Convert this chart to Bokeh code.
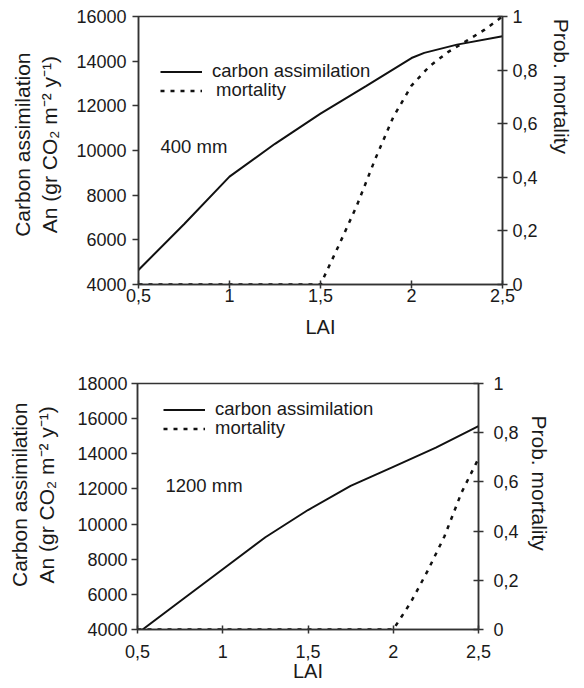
from bokeh.plotting import figure
from bokeh.models import (Range1d, LinearAxis, FixedTicker, Label, Legend,
                          LegendItem)
from bokeh.embed import file_html
from bokeh.resources import INLINE

# ---------------- data ----------------
x_ticks = [0.5, 1.0, 1.5, 2.0, 2.5]
x_tick_labels = ["0,5", "1", "1,5", "2", "2,5"]
prob_ticks = [0.0, 0.2, 0.4, 0.6, 0.8, 1.0]
prob_tick_labels = ["0", "0,2", "0,4", "0,6", "0,8", "1"]
top_an_ticks = [4000, 6000, 8000, 10000, 12000, 14000, 16000]
bot_an_ticks = [4000, 6000, 8000, 10000, 12000, 14000, 16000, 18000]

# 400 mm panel
top_lai_an = [0.5, 0.75, 1.0, 1.25, 1.5, 1.75, 2.0, 2.07, 2.25, 2.5]
top_an = [4650, 6700, 8830, 10300, 11650, 12880, 14140, 14370, 14740, 15120]
top_lai_mort = [0.5, 1.0, 1.5, 1.6, 1.7, 1.8, 1.9, 2.0, 2.1, 2.2, 2.3, 2.4, 2.5]
top_mort = [0, 0, 0, 0.145, 0.295, 0.467, 0.625, 0.742, 0.815, 0.867, 0.908, 0.95, 1.0]

# 1200 mm panel
bot_lai_an = [0.53, 0.75, 1.0, 1.25, 1.5, 1.75, 2.0, 2.25, 2.5]
bot_an = [4000, 5610, 7430, 9250, 10800, 12170, 13260, 14350, 15570]
bot_lai_mort = [0.5, 1.0, 1.5, 2.0, 2.1, 2.2, 2.3, 2.4, 2.5]
bot_mort = [0, 0, 0, 0, 0.107, 0.236, 0.378, 0.556, 0.695]

FONT = "Liberation Sans"
AXC = "#333333"
TXT = "#1a1a1a"
W = 584
YLABEL_LINES = ["Carbon assimilation", "An (gr CO\u2082 m\u207b\u00b2 y\u207b\u00b9)"]
RLABEL = "Prob. mortality"
NBSP = "\u00a0"


def build(g):
    fl = g["left"]
    fw = W - g["left"] - g["right"]
    ft = g["fig_top"] + g["top"]
    fh = g["height"] - g["top"] - g["bottom"]
    fb = ft + fh
    x0, x1 = 0.5, 2.5
    y0, y1 = g["yr"]

    def X(px):
        return x0 + (px - fl) / fw * (x1 - x0)

    def Y(py):
        return y0 + (fb - py) / fh * (y1 - y0)

    p = figure(width=W, height=g["height"], x_range=Range1d(x0, x1),
               y_range=Range1d(y0, y1), output_backend="svg",
               toolbar_location=None,
               min_border_left=g["left"], min_border_right=g["right"],
               min_border_top=g["top"], min_border_bottom=g["bottom"])
    p.xgrid.visible = False
    p.ygrid.visible = False
    p.outline_line_color = AXC
    p.outline_line_width = 1.5
    p.background_fill_color = "white"
    p.border_fill_color = "white"

    # bottom axis
    xa = p.xaxis[0]
    xa.ticker = FixedTicker(ticks=x_ticks)
    xa.major_label_overrides = dict(zip(x_ticks, x_tick_labels))
    xa.major_tick_in = 4
    xa.major_tick_out = 4
    xa.major_label_standoff = g["xstand"]
    xa.axis_label = "LAI"
    xa.axis_label_standoff = g["xlab_stand"]

    # left axis (two-line label; leading no-break spaces nudge it upwards)
    ya = p.yaxis[0]
    ya.ticker = FixedTicker(ticks=g["yticks"])
    ya.major_tick_in = 0
    ya.major_tick_out = 6
    ya.major_label_standoff = g["ystand"]
    ya.axis_label = "\n".join(NBSP * g["ylab_pad"] + s for s in YLABEL_LINES)
    ya.axis_label_standoff = g["ylab_stand"]

    # right axis (probability); trailing no-break spaces shift the centred
    # label towards the top of the axis, as in the original
    p.extra_y_ranges = {"prob": Range1d(0, 1)}
    ra = LinearAxis(y_range_name="prob", ticker=FixedTicker(ticks=prob_ticks),
                    major_label_overrides=dict(zip(prob_ticks, prob_tick_labels)))
    ra.major_tick_in = 5
    ra.major_tick_out = 5
    ra.major_label_standoff = g["rstand"]
    ra.axis_label = RLABEL + NBSP * g["rlab_pad"]
    ra.axis_label_standoff = g["rlab_stand"]
    p.add_layout(ra, "right")

    for ax in (xa, ya, ra):
        ax.minor_tick_line_color = None
        ax.axis_line_color = AXC
        ax.axis_line_width = 1.5
        ax.major_tick_line_color = AXC
        ax.major_tick_line_width = 1.5
        ax.major_label_text_font = FONT
        ax.major_label_text_font_size = "18px"
        ax.major_label_text_color = TXT
        ax.axis_label_text_font = FONT
        ax.axis_label_text_font_style = "normal"
        ax.axis_label_text_color = TXT
    xa.axis_label_text_font_size = "20px"
    ya.axis_label_text_font_size = "21px"
    ra.axis_label_text_font_size = "21px"

    r_an = p.line(g["lai_an"], g["an"], line_color="#111111", line_width=2)
    r_m = p.line(g["lai_m"], g["m"], y_range_name="prob", line_color="#111111",
                 line_width=2.5, line_dash="4 6")

    def legend(label, rend, center_py, standoff):
        return Legend(items=[LegendItem(label=label, renderers=[rend])],
                      location=(g["leg_x"] - fl, fb - (center_py + 10.5)),
                      border_line_alpha=0, background_fill_alpha=0,
                      padding=0, margin=0, spacing=0,
                      glyph_width=42, glyph_height=17, label_height=17,
                      label_standoff=standoff, label_text_font=FONT,
                      label_text_font_size="18.5px", label_text_color=TXT,
                      label_text_line_height=1.0)

    p.add_layout(legend("carbon assimilation", r_an, g["leg_rows"][0], 10))
    p.add_layout(legend("mortality", r_m, g["leg_rows"][1], g["mort_stand"]))

    p.add_layout(Label(x=X(g["tag_xy"][0]), y=Y(g["tag_xy"][1]), text=g["tag"],
                       text_align="left", text_baseline="middle",
                       text_font=FONT, text_font_size="18.5px",
                       text_color=TXT))
    return p


top_geom = dict(fig_top=0, height=349, left=138, right=82, top=16, bottom=65,
                yr=(4000, 16000), yticks=top_an_ticks,
                xstand=0, ystand=6, rstand=5,
                xlab_stand=11, ylab_stand=12, ylab_pad=2,
                rlab_stand=9, rlab_pad=22,
                lai_an=top_lai_an, an=top_an, lai_m=top_lai_mort, m=top_mort,
                leg_x=160, leg_rows=(71.5, 90.5), mort_stand=14,
                tag="400 mm", tag_xy=(160, 146))
bot_geom = dict(fig_top=349, height=339, left=137, right=106, top=34, bottom=59,
                yr=(4000, 18000), yticks=bot_an_ticks,
                xstand=11, ystand=4, rstand=10,
                xlab_stand=-1, ylab_stand=16, ylab_pad=4,
                rlab_stand=6, rlab_pad=8,
                lai_an=bot_lai_an, an=bot_an, lai_m=bot_lai_mort, m=bot_mort,
                leg_x=163, leg_rows=(409.5, 428.5), mort_stand=10,
                tag="1200 mm", tag_xy=(165, 485))

p1 = build(top_geom)
p2 = build(bot_geom)

open("out.html", "w").write(file_html([p1, p2], INLINE))
